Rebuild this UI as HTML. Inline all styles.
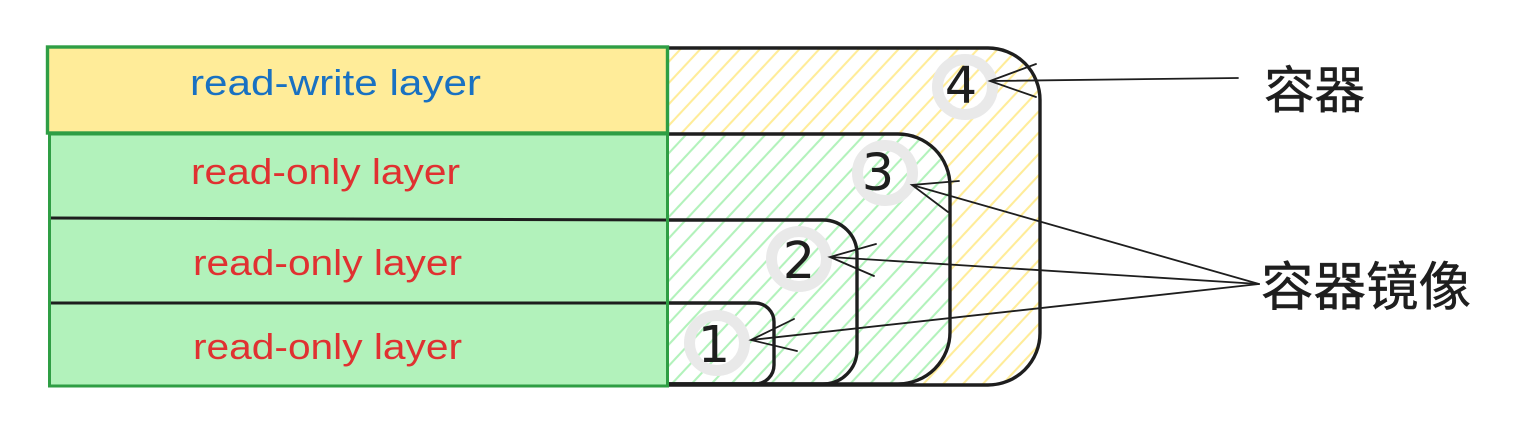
<!DOCTYPE html>
<html>
<head>
<meta charset="utf-8">
<style>
html,body{margin:0;padding:0;background:#fff;width:1525px;height:421px;overflow:hidden}
svg{display:block}
.lt{font-family:"Liberation Sans","DejaVu Sans",sans-serif;font-size:36px}
.num{font-family:"DejaVu Sans","Liberation Sans",sans-serif;font-size:51px;fill:#1e1e1e;text-anchor:middle}
.cjk{font-family:"Liberation Sans","WenQuanYi Zen Hei","Noto Sans CJK SC",sans-serif;fill:#1e1e1e;stroke:#1e1e1e;stroke-width:.5}
</style>
</head>
<body>
<svg width="1525" height="421" viewBox="0 0 1525 421" xmlns="http://www.w3.org/2000/svg">
<defs>
<pattern id="hy" width="14.500" height="14.500" patternUnits="userSpaceOnUse" patternTransform="translate(3 0) rotate(43)">
<line x1="7" y1="0" x2="7" y2="14.500" stroke="#ffec99" stroke-width="2.100"/>
</pattern>
<pattern id="hg" width="14.500" height="14.500" patternUnits="userSpaceOnUse" patternTransform="translate(9 0) rotate(43)">
<line x1="7" y1="0" x2="7" y2="14.500" stroke="#b2f2bb" stroke-width="2.100"/>
</pattern>
</defs>
<rect width="1525" height="421" fill="#fff"/>

<!-- nested hatched shapes -->
<path d="M667 48H988A52 52 0 0 1 1040 100V333A52 52 0 0 1 988 385H667Z" fill="url(#hy)"/>
<path d="M667 134H898A52 52 0 0 1 950 186V332A52 52 0 0 1 898 384H667Z" fill="#fff"/>
<path d="M667 134H898A52 52 0 0 1 950 186V332A52 52 0 0 1 898 384H667Z" fill="url(#hg)"/>

<path d="M667 48H988A52 52 0 0 1 1040 100V333A52 52 0 0 1 988 385H667" fill="none" stroke="#1e1e1e" stroke-width="3.400"/>
<path d="M667 134H898A52 52 0 0 1 950 186V332A52 52 0 0 1 898 384H667" fill="none" stroke="#1e1e1e" stroke-width="3.400"/>
<path d="M667 220H823A34 34 0 0 1 857 254V350A34 34 0 0 1 823 384H667" fill="none" stroke="#1e1e1e" stroke-width="3.400"/>
<path d="M667 303H755A19 19 0 0 1 774 322V365A19 19 0 0 1 755 384H667" fill="none" stroke="#1e1e1e" stroke-width="3.400"/>

<!-- left layers -->
<rect x="49" y="134" width="618" height="252" fill="#b2f2bb"/>
<rect x="48" y="47" width="619" height="86" fill="#ffec99"/>
<line x1="50" y1="218" x2="667" y2="220" stroke="#1e1e1e" stroke-width="3"/>
<line x1="48" y1="303" x2="667" y2="303" stroke="#1e1e1e" stroke-width="3"/>
<path d="M49.500 134V386H667.500V134Z" fill="none" stroke="#2f9e44" stroke-width="3"/>
<rect x="47.500" y="47" width="620" height="86" fill="none" stroke="#2f9e44" stroke-width="3.400"/>

<text class="lt" x="190" y="95" fill="#1971c2" textLength="291" lengthAdjust="spacingAndGlyphs">read-write layer</text>
<text class="lt" x="191" y="184" fill="#e03131" textLength="269" lengthAdjust="spacingAndGlyphs">read-only layer</text>
<text class="lt" x="193" y="275" fill="#e03131" textLength="269" lengthAdjust="spacingAndGlyphs">read-only layer</text>
<text class="lt" x="193" y="359" fill="#e03131" textLength="269" lengthAdjust="spacingAndGlyphs">read-only layer</text>

<!-- number badges -->
<g fill="none" stroke="#e9e9e9" stroke-width="11">
<circle cx="965" cy="87" r="27.500"/>
<circle cx="885" cy="173" r="27.500"/>
<circle cx="799" cy="259" r="27.500"/>
<circle cx="717" cy="343" r="27.500"/>
</g>
<text class="num" x="961" y="103">4</text>
<text class="num" x="878" y="190">3</text>
<text class="num" x="799" y="278">2</text>
<text class="num" x="714" y="362">1</text>

<!-- arrows -->
<g fill="none" stroke="#1e1e1e" stroke-width="1.800" stroke-linecap="round">
<path d="M1238 78L990 81M1036 64L990 81L1036 97"/>
<path d="M1259 284L912 185M959 181L912 185L948 212"/>
<path d="M1259 284L830 257M876 244L830 257L874 276"/>
<path d="M1259 284L751 340M794 319L751 340L797 351"/>
</g>

<text class="cjk" x="1264" y="108" font-size="50.500">容器</text>
<text class="cjk" x="1261" y="305" font-size="52.500">容器镜像</text>
</svg>
</body>
</html>
